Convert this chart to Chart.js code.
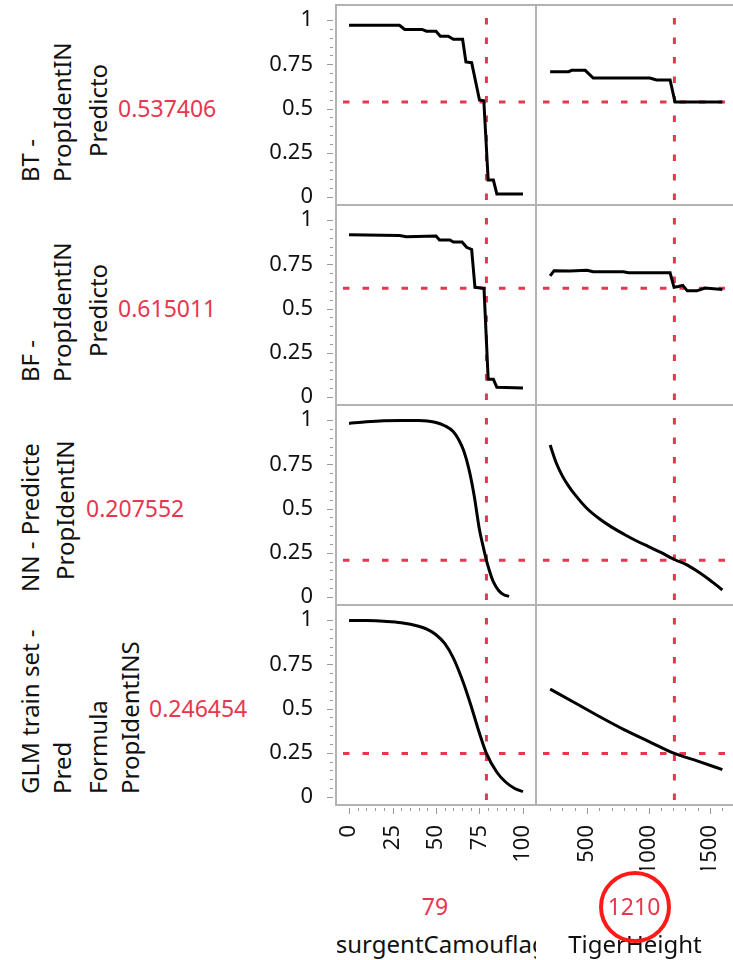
<!DOCTYPE html>
<html>
<head>
<meta charset="utf-8">
<script src="https://cdn.jsdelivr.net/npm/chart.js@4.4.1/dist/chart.umd.min.js"></script>
<style>
html, body { margin: 0; padding: 0; background: #fff; overflow: hidden; }
body { width: 733px; height: 960px; position: relative; font-family: "Noto Sans", "Open Sans", sans-serif; color: #111; }
canvas { position: absolute; }
.lbl { position: absolute; white-space: nowrap; line-height: 1; }
.rot { transform-origin: 0 0; transform: rotate(-90deg) translateY(-50%); font-size: 24px; }
.val { color: #e8364e; font-size: 23px; transform: translateY(-50%); }
.mid { transform: translate(-50%, -50%); }
.clip { position: absolute; overflow: hidden; display: flex; justify-content: center; font-size: 24px; line-height: 1; white-space: nowrap; }
.ring { position: absolute; border: 4px solid #ff1a1a; border-radius: 50%; box-sizing: border-box; }
</style>
</head>
<body>
<script>
// factor settings and predictions
const currentCamo = 79;
const currentHeight = 1210;
const predicted = [0.537406, 0.615011, 0.207552, 0.246454];

// tick labels
const probTicks = [0, 0.25, 0.5, 0.75, 1];
const probTickLabels = ['0', '0.25', '0.5', '0.75', '1'];
const camoTicks = [0, 25, 50, 75, 100];
const camoTickLabels = ['0', '25', '50', '75', '100'];
const heightTicks = [500, 1000, 1500];
const heightTickLabels = ['500', '1000', '1500'];

// BT - boosted tree
const camoBT_x = [0, 29, 32, 42, 44.5, 50, 52.5, 57, 60, 65.3, 67.2, 70.5, 75, 77.5, 80, 83, 85, 100];
const camoBT_y = [0.970, 0.970, 0.947, 0.947, 0.937, 0.937, 0.909, 0.909, 0.891, 0.891, 0.763, 0.759, 0.548, 0.544, 0.096, 0.096, 0.017, 0.017];
const heightBT_x = [200, 350, 375, 485, 550, 1010, 1065, 1175, 1215, 1600];
const heightBT_y = [0.708, 0.708, 0.716, 0.716, 0.672, 0.672, 0.661, 0.661, 0.537, 0.537];

// BF - bootstrap forest
const camoBF_x = [0, 29, 33, 50, 52, 58, 60, 65, 67.6, 70.5, 72.4, 77.6, 80, 83, 85, 100];
const camoBF_y = [0.917, 0.913, 0.906, 0.910, 0.887, 0.887, 0.876, 0.876, 0.846, 0.834, 0.620, 0.614, 0.100, 0.100, 0.055, 0.051];
const heightBF_x = [200, 232, 360, 500, 550, 795, 836, 1175, 1207, 1242, 1278, 1315, 1392, 1459, 1600];
const heightBF_y = [0.684, 0.714, 0.712, 0.716, 0.708, 0.708, 0.702, 0.702, 0.620, 0.625, 0.631, 0.600, 0.600, 0.616, 0.608];

// NN - neural net
const camoNN_x = [0, 10, 20, 30, 40, 45, 50, 55, 60, 63, 66, 69, 72, 75, 77, 79, 81, 83, 86, 89, 92];
const camoNN_y = [0.981, 0.990, 0.996, 0.998, 0.997, 0.994, 0.986, 0.968, 0.934, 0.890, 0.825, 0.720, 0.570, 0.380, 0.290, 0.2076, 0.140, 0.085, 0.037, 0.013, 0.004];
const heightNN_x = [200, 250, 300, 350, 400, 500, 600, 700, 800, 900, 1000, 1100, 1210, 1300, 1400, 1500, 1600];
const heightNN_y = [0.859, 0.757, 0.683, 0.627, 0.580, 0.500, 0.442, 0.395, 0.355, 0.318, 0.285, 0.252, 0.212, 0.186, 0.144, 0.095, 0.040];

// GLM
const camoGLM_x = [0, 10, 20, 30, 40, 45, 50, 55, 60, 65, 70, 75, 79, 85, 90, 95, 100];
const camoGLM_y = [0.998, 0.997, 0.993, 0.985, 0.965, 0.947, 0.917, 0.868, 0.785, 0.665, 0.520, 0.360, 0.2465, 0.140, 0.085, 0.050, 0.030];
const heightGLM_x = [200, 400, 600, 800, 1000, 1210, 1400, 1600];
const heightGLM_y = [0.610, 0.533, 0.455, 0.381, 0.315, 0.2465, 0.203, 0.155];

const FONT = '"Noto Sans", "Open Sans", sans-serif';
const RED = '#e8364e';
const Y_MIN = -0.045, Y_MAX = 1.085;

const cols = [
    { left: 258, padL: 0, axisW: 78, plotW: 200, min: -7.5, max: 107.5, ticks: camoTicks, labels: camoTickLabels, minorStep: 5, cur: currentCamo },
    { left: 534, padL: 2, axisW: 0, plotW: 210, min: 85, max: 1792, ticks: heightTicks, labels: heightTickLabels, minorStep: 100, cur: currentHeight }
];

const panels = [
    [0, 0, camoBT_x, camoBT_y, false], [0, 1, heightBT_x, heightBT_y, false],
    [1, 0, camoBF_x, camoBF_y, false], [1, 1, heightBF_x, heightBF_y, false],
    [2, 0, camoNN_x, camoNN_y, true], [2, 1, heightNN_x, heightNN_y, true],
    [3, 0, camoGLM_x, camoGLM_y, true], [3, 1, heightGLM_x, heightGLM_y, true]
];

// frame + tick marks (set 3px away from the frame, like the original)
const panelDecor = {
    id: 'panelDecor',
    afterDraw(chart, args, opts) {
        const { ctx, chartArea: a, scales } = chart;
        ctx.save();
        ctx.strokeStyle = '#999';
        ctx.lineWidth = 1;
        ctx.beginPath();
        if (opts.yTicks) {
            for (let k = 0; k <= 20; k++) {
                const v = k * 0.05;
                const len = k % 5 === 0 ? 6 : 3;
                const py = Math.round(scales.y.getPixelForValue(v)) + 0.5;
                ctx.moveTo(a.left - 3 - len, py);
                ctx.lineTo(a.left - 3, py);
            }
        }
        if (opts.xTicks) {
            for (let v = opts.from; v <= opts.to + 1e-6; v += opts.step) {
                const len = opts.major.includes(v) ? 6 : 3;
                const px = Math.round(scales.x.getPixelForValue(v)) + 0.5;
                ctx.moveTo(px, a.bottom + 3);
                ctx.lineTo(px, a.bottom + 3 + len);
            }
        }
        ctx.stroke();
        ctx.strokeStyle = '#b2b2b2';
        ctx.lineWidth = 2;
        ctx.strokeRect(a.left, a.top, a.right - a.left, a.bottom - a.top);
        ctx.restore();
    }
};

function addPanel(r, c, xs, ys, smooth) {
    const col = cols[c];
    const bottomRow = r === 3;
    const w = col.padL + col.axisW + col.plotW + 2;
    const h = 2 + 200 + (bottomRow ? 65 : 2);
    const cv = document.createElement('canvas');
    cv.width = w;
    cv.height = h;
    cv.style.left = col.left + 'px';
    cv.style.top = (3 + 200 * r) + 'px';
    cv.style.width = w + 'px';
    cv.style.height = h + 'px';
    document.body.appendChild(cv);

    const curve = xs.map((x, i) => ({ x: x, y: ys[i] }));
    const hLine = [{ x: col.min, y: predicted[r] }, { x: col.max, y: predicted[r] }];
    const vLine = [{ x: col.cur, y: Y_MAX }, { x: col.cur, y: Y_MIN }];

    new Chart(cv.getContext('2d'), {
        type: 'scatter',
        data: {
            datasets: [
                {
                    data: curve, showLine: true, borderColor: '#000', borderWidth: 3,
                    pointRadius: 0, tension: smooth ? 0.4 : 0,
                    cubicInterpolationMode: smooth ? 'monotone' : 'default'
                },
                {
                    data: hLine, showLine: true, borderColor: RED, borderWidth: 3,
                    borderDash: [6.5, 13], borderDashOffset: 12.5, pointRadius: 0
                },
                {
                    data: vLine, showLine: true, borderColor: RED, borderWidth: 3,
                    borderDash: [6.5, 13], borderDashOffset: 6.5, pointRadius: 0
                }
            ]
        },
        options: {
            responsive: false,
            animation: false,
            devicePixelRatio: 1,
            layout: { padding: { left: col.padL, right: 2, top: 2, bottom: bottomRow ? 0 : 2 } },
            plugins: {
                legend: { display: false },
                tooltip: { enabled: false },
                panelDecor: {
                    yTicks: c === 0,
                    xTicks: bottomRow,
                    from: xs[0], to: xs[xs.length - 1], step: col.minorStep, major: col.ticks
                }
            },
            scales: {
                x: {
                    type: 'linear', min: col.min, max: col.max, display: bottomRow,
                    afterBuildTicks: s => { s.ticks = col.ticks.map(v => ({ value: v })); },
                    afterFit: s => { s.height = bottomRow ? 65 : 0; s.paddingLeft = 0; s.paddingRight = 0; },
                    ticks: {
                        callback: (v, i) => col.labels[i], autoSkip: false,
                        minRotation: 90, maxRotation: 90, padding: 20,
                        color: '#111', font: { family: FONT, size: 22 }
                    },
                    grid: { drawOnChartArea: false, drawTicks: false },
                    border: { display: false }
                },
                y: {
                    type: 'linear', min: Y_MIN, max: Y_MAX, display: c === 0,
                    afterBuildTicks: s => { s.ticks = probTicks.map(v => ({ value: v })); },
                    afterFit: s => { s.width = col.axisW; s.paddingTop = 0; s.paddingBottom = 0; },
                    ticks: {
                        callback: (v, i) => probTickLabels[i], autoSkip: false, padding: 23,
                        color: '#111', font: { family: FONT, size: 22 }
                    },
                    grid: { drawOnChartArea: false, drawTicks: false },
                    border: { display: false }
                }
            }
        },
        plugins: [panelDecor]
    });
}

panels.forEach(p => addPanel(p[0], p[1], p[2], p[3], p[4]));

// response titles, rotated: [text, x centre, y start]
const titleLines = [
    [['BT -', 30, 182], ['PropIdentIN', 62, 182], ['Predicto', 98, 157]],
    [['BF -', 30, 382], ['PropIdentIN', 62, 382], ['Predicto', 98, 357]],
    [['NN - Predicte', 30, 592], ['PropIdentIN', 65, 580]],
    [['GLM train set -', 30, 794], ['Pred', 62, 794], ['Formula', 98, 794], ['PropIdentINS', 130, 794]]
];
const valuePos = [[118, 108], [118, 308], [86, 508], [149, 708]];

function addDiv(cls, text, left, top) {
    const d = document.createElement('div');
    d.className = 'lbl ' + cls;
    d.textContent = text;
    d.style.left = left + 'px';
    d.style.top = top + 'px';
    document.body.appendChild(d);
    return d;
}

titleLines.forEach(lines => lines.forEach(l => addDiv('rot', l[0], l[1], l[2])));
predicted.forEach((v, i) => addDiv('val', String(v), valuePos[i][0], valuePos[i][1]));

// factor settings under the x axes
const v1 = addDiv('mid', String(currentCamo), 435, 906);
const v2 = addDiv('mid', String(currentHeight), 634, 906);
[v1, v2].forEach(d => { d.style.color = RED; d.style.fontSize = '23px'; });

const t1 = document.createElement('div');
t1.className = 'clip';
t1.style.left = '337px'; t1.style.width = '199px'; t1.style.top = '932px'; t1.style.height = '30px';
t1.innerHTML = '<span>InsurgentCamouflage</span>';
document.body.appendChild(t1);

const t2 = document.createElement('div');
t2.className = 'clip';
t2.style.left = '537px'; t2.style.width = '196px'; t2.style.top = '932px'; t2.style.height = '30px';
t2.innerHTML = '<span>TigerHeight</span>';
document.body.appendChild(t2);

const ring = document.createElement('div');
ring.className = 'ring';
ring.style.left = '599px'; ring.style.top = '871px';
ring.style.width = '72px'; ring.style.height = '72px';
document.body.appendChild(ring);
</script>
</body>
</html>
